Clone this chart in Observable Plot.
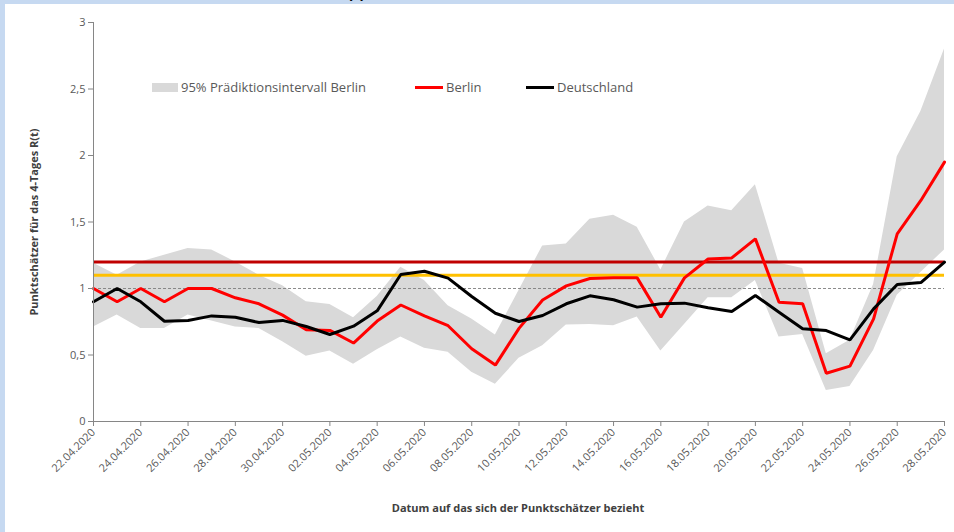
<!DOCTYPE html>
<html><head><meta charset="utf-8">
<script src="https://cdn.jsdelivr.net/npm/d3@7"></script>
<script src="https://cdn.jsdelivr.net/npm/@observablehq/plot@0.6"></script>
<style>
html,body{margin:0;padding:0;background:#c6d9f1;width:954px;height:532px;overflow:hidden;font-family:"Open Sans",sans-serif;}
#title{position:absolute;left:285px;top:-18px;font:bold 16px "Open Sans";color:#000;white-space:nowrap;}
#panel{position:absolute;left:5px;top:4px;width:949px;height:528px;background:#fff;}
#chart{position:absolute;left:0;top:0;}
#chart svg text{-webkit-font-smoothing:antialiased;}
.lg{position:absolute;font-size:13px;color:#595959;white-space:nowrap;line-height:16px;}
.sw{position:absolute;}
#xtitle{position:absolute;left:0;width:1026px;top:496px;text-align:center;font-weight:bold;font-size:11px;color:#404040;}
#ytitle{position:absolute;left:28px;top:218px;width:0;height:0;}
#ytitle span{position:absolute;transform:translate(-50%,-50%) rotate(-90deg);white-space:nowrap;font-weight:bold;font-size:11px;color:#404040;}
</style></head>
<body>
<div id="title">Berlin R(t)</div>
<div id="panel">
  <div id="chart"></div>
  <div class="sw" style="left:147px;top:79px;width:26px;height:9px;background:#d9d9d9"></div>
  <div class="lg" style="left:176px;top:75px">95% Prädiktionsintervall Berlin</div>
  <div class="sw" style="left:410px;top:82px;width:28px;height:3px;background:#ff0000"></div>
  <div class="lg" style="left:441px;top:75px">Berlin</div>
  <div class="sw" style="left:521px;top:82px;width:28px;height:3px;background:#000"></div>
  <div class="lg" style="left:552px;top:75px">Deutschland</div>
  <div id="xtitle">Datum auf das sich der Punktschätzer bezieht</div>
  <div id="ytitle"><span>Punktschätzer für das 4-Tages R(t)</span></div>
</div>
<script>
const dates = ["2020-04-22","2020-04-23","2020-04-24","2020-04-25","2020-04-26","2020-04-27","2020-04-28","2020-04-29","2020-04-30","2020-05-01","2020-05-02","2020-05-03","2020-05-04","2020-05-05","2020-05-06","2020-05-07","2020-05-08","2020-05-09","2020-05-10","2020-05-11","2020-05-12","2020-05-13","2020-05-14","2020-05-15","2020-05-16","2020-05-17","2020-05-18","2020-05-19","2020-05-20","2020-05-21","2020-05-22","2020-05-23","2020-05-24","2020-05-25","2020-05-26","2020-05-27","2020-05-28"];
const berlin = [1.0,0.9,1.0,0.9,1.0,1.0,0.93,0.885,0.80,0.69,0.685,0.59,0.755,0.876,0.795,0.72,0.547,0.424,0.70,0.913,1.02,1.075,1.08,1.08,0.784,1.08,1.222,1.23,1.373,0.897,0.885,0.363,0.416,0.772,1.411,1.662,1.95];
const deutschland = [0.9,1.0,0.9,0.754,0.76,0.794,0.784,0.744,0.76,0.714,0.654,0.717,0.832,1.105,1.13,1.078,0.94,0.814,0.752,0.797,0.885,0.945,0.915,0.86,0.885,0.89,0.855,0.827,0.947,0.822,0.697,0.684,0.614,0.847,1.03,1.045,1.198];
const piLower = [0.71,0.80,0.70,0.70,0.80,0.755,0.71,0.70,0.60,0.49,0.53,0.43,0.54,0.635,0.55,0.52,0.37,0.28,0.475,0.57,0.725,0.73,0.72,0.785,0.53,0.73,0.93,0.93,1.06,0.635,0.654,0.233,0.263,0.534,0.95,1.12,1.29];
const piUpper = [1.19,1.10,1.20,1.25,1.30,1.29,1.20,1.10,1.02,0.90,0.88,0.78,0.94,1.16,1.06,0.87,0.77,0.65,0.985,1.32,1.335,1.52,1.55,1.46,1.14,1.50,1.62,1.585,1.78,1.19,1.15,0.51,0.61,1.03,1.99,2.33,2.80];
const xTickLabels = ["22.04.2020","24.04.2020","26.04.2020","28.04.2020","30.04.2020","02.05.2020","04.05.2020","06.05.2020","08.05.2020","10.05.2020","12.05.2020","14.05.2020","16.05.2020","18.05.2020","20.05.2020","22.05.2020","24.05.2020","26.05.2020","28.05.2020"];
const yTicks = [0,0.5,1,1.5,2,2.5,3];
const refOne = [1.0];
const refRed = [1.2];
const refYellow = [1.1];

const parseLabel = d3.utcParse("%d.%m.%Y");
const fmtLabel = d3.utcFormat("%d.%m.%Y");
const rows = dates.map((d,i)=>({date:new Date(d+"T00:00:00Z"), berlin:berlin[i], de:deutschland[i], lo:piLower[i], hi:piUpper[i]}));
const tickDates = xTickLabels.map(parseLabel);
const start = rows[0].date, end = rows[rows.length-1].date;

const chart = Plot.plot({
  width: 949, height: 528,
  marginLeft: 88, marginRight: 10, marginTop: 18, marginBottom: 111,
  style: {fontFamily: "Open Sans", fontSize: "11px", color: "#595959", background: "transparent"},
  x: {type: "utc", domain: [start, end]},
  y: {domain: [0, 3]},
  marks: [
    Plot.areaY(rows, {x: "date", y1: "lo", y2: "hi", fill: "#d9d9d9", curve: "linear"}),
    Plot.ruleY(refOne, {stroke: "#7f7f7f", strokeWidth: 0.9, strokeDasharray: "3,2"}),
    Plot.ruleY(refRed, {stroke: "#c00000", strokeWidth: 3}),
    Plot.ruleY(refYellow, {stroke: "#ffc000", strokeWidth: 3}),
    Plot.lineY(rows, {x: "date", y: "berlin", stroke: "#ff0000", strokeWidth: 3, strokeLinejoin: "miter"}),
    Plot.lineY(rows, {x: "date", y: "de", stroke: "#000000", strokeWidth: 3, strokeLinejoin: "miter"}),
    Plot.ruleX([start], {stroke: "#868686", strokeWidth: 1}),
    Plot.ruleY([0], {stroke: "#868686", strokeWidth: 1}),
    Plot.axisY({ticks: yTicks, tickFormat: d => String(d).replace(".", ","), tickSize: 5, tickPadding: 3, label: null, stroke: "#868686", fill: "#595959", fontSize: 11}),
    Plot.axisX({ticks: tickDates, tickFormat: fmtLabel, tickSize: 5, tickPadding: 4, tickRotate: -45, label: null, stroke: "#868686", fill: "#595959", fontSize: 11})
  ]
});
document.getElementById("chart").appendChild(chart);
</script>
</body></html>
